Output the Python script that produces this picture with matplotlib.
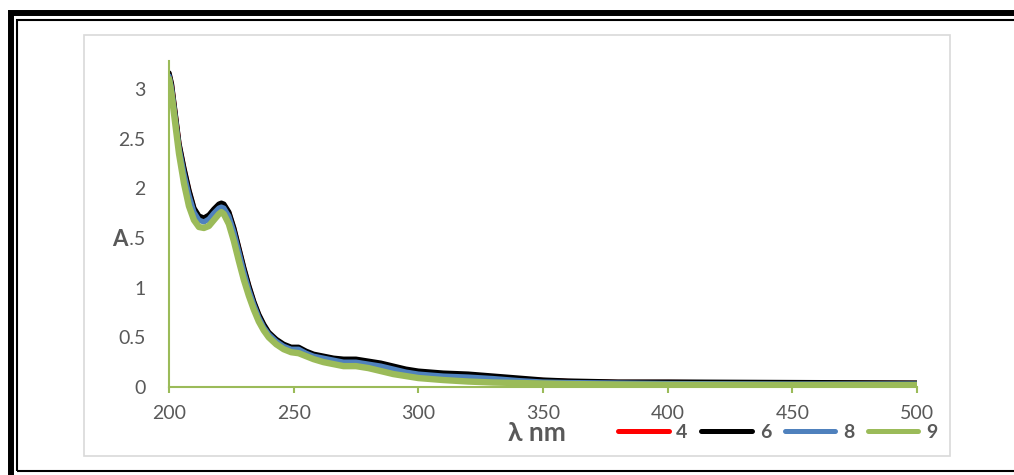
import matplotlib
matplotlib.use("Agg")
import matplotlib.pyplot as plt
from matplotlib.lines import Line2D
from matplotlib.patches import Rectangle

plt.rcParams['font.family'] = ['Lato', 'DejaVu Sans']

# ---------------- data ----------------
wavelength = [200, 201, 202, 204, 206, 208, 210, 212, 214, 216, 218, 220, 221, 222, 224,
              226, 228, 230, 232, 234, 236, 238, 240, 243, 246, 249, 252, 255, 258, 262,
              266, 270, 275, 280, 285, 290, 295, 300, 310, 320, 330, 340, 350, 360, 380,
              400, 450, 500]

abs_4 = [3.15, 3.04, 2.84, 2.44, 2.19, 1.97, 1.79, 1.71, 1.69, 1.72, 1.78, 1.83, 1.84, 1.83, 1.75,
         1.59, 1.39, 1.19, 1.01, 0.85, 0.72, 0.62, 0.54, 0.47, 0.42, 0.39, 0.39, 0.35, 0.32, 0.30,
         0.28, 0.27, 0.27, 0.25, 0.23, 0.20, 0.17, 0.15, 0.13, 0.12, 0.10, 0.08, 0.065, 0.055, 0.045,
         0.045, 0.04, 0.035]

abs_6 = [3.16, 3.05, 2.85, 2.45, 2.20, 1.98, 1.80, 1.72, 1.70, 1.73, 1.79, 1.84, 1.85, 1.84, 1.76,
         1.60, 1.40, 1.20, 1.02, 0.86, 0.73, 0.63, 0.55, 0.48, 0.43, 0.40, 0.40, 0.36, 0.33, 0.31,
         0.29, 0.28, 0.28, 0.26, 0.24, 0.21, 0.18, 0.16, 0.14, 0.13, 0.11, 0.09, 0.07, 0.06, 0.05,
         0.05, 0.045, 0.04]

abs_8 = [3.13, 3.01, 2.81, 2.41, 2.15, 1.93, 1.76, 1.68, 1.66, 1.69, 1.75, 1.80, 1.81, 1.80, 1.72,
         1.56, 1.36, 1.16, 0.98, 0.83, 0.70, 0.60, 0.53, 0.46, 0.41, 0.38, 0.38, 0.34, 0.31, 0.29,
         0.27, 0.25, 0.25, 0.23, 0.21, 0.18, 0.15, 0.13, 0.11, 0.10, 0.085, 0.065, 0.05, 0.045, 0.04,
         0.035, 0.03, 0.03]

abs_9 = [3.10, 2.95, 2.75, 2.35, 2.05, 1.82, 1.68, 1.61, 1.60, 1.62, 1.68, 1.74, 1.76, 1.74, 1.64,
         1.47, 1.27, 1.08, 0.92, 0.78, 0.66, 0.57, 0.50, 0.43, 0.38, 0.35, 0.34, 0.31, 0.28, 0.25,
         0.23, 0.21, 0.21, 0.19, 0.16, 0.13, 0.11, 0.09, 0.07, 0.055, 0.045, 0.04, 0.035, 0.03, 0.025,
         0.022, 0.02, 0.02]

series_labels = ['4', '6', '8', '9']
series_colors = ['#ff0000', '#000000', '#4f81bd', '#9bbb59']
series_widths = [3.8, 3.8, 3.8, 4.6]

x_ticks = [200, 250, 300, 350, 400, 450, 500]
y_ticks = [0, 0.5, 1, 1.5, 2, 2.5, 3]
y_tick_labels = ['0', '0.5', '1', '1.5', '2', '2.5', '3']

# ---------------- figure ----------------
W, H = 1014, 475
fig = plt.figure(figsize=(W / 100, H / 100), dpi=100)


def fx(px):
    return px / W


def fy(py):
    return 1 - py / H


# decorative frame
fig.add_artist(Rectangle((fx(11), fy(480)), fx(1030) - fx(11), fy(13.5) - fy(480),
                         transform=fig.transFigure, fill=False, edgecolor='black', lw=4.3))
fig.add_artist(Rectangle((fx(17), fy(471)), fx(1030) - fx(17), fy(20) - fy(471),
                         transform=fig.transFigure, fill=False, edgecolor='black', lw=1.5))
# chart area border
fig.add_artist(Rectangle((fx(84), fy(456)), fx(950) - fx(84), fy(35) - fy(456),
                         transform=fig.transFigure, fill=False, edgecolor='#d9d9d9', lw=1.2))

ax = fig.add_axes([fx(169), fy(387), fx(917) - fx(169), fy(61) - fy(387)])

series = [abs_4, abs_6, abs_8, abs_9]
for vals, lab, col, lw in zip(series, series_labels, series_colors, series_widths):
    ax.plot(wavelength, vals, color=col, lw=lw, label=lab,
            solid_capstyle='round', solid_joinstyle='round')

ax.set_xlim(200, 500)
ax.set_ylim(0, 3.28)
ax.set_xticks(x_ticks)
ax.set_xticklabels([str(t) for t in x_ticks])
ax.set_yticks(y_ticks)
ax.set_yticklabels(y_tick_labels)

green = '#9bbb59'
for s in ['top', 'right']:
    ax.spines[s].set_visible(False)
for s in ['left', 'bottom']:
    ax.spines[s].set_color(green)
    ax.spines[s].set_linewidth(1.5)
ax.tick_params(axis='x', direction='out', length=4, width=1.5, color=green,
               labelsize=14, labelcolor='#595959', pad=9)
ax.tick_params(axis='y', length=0, labelsize=14, labelcolor='#595959', pad=17)

# axis titles
fig.text(fx(537), fy(433), 'λ nm', ha='center', va='center', fontsize=19,
         fontweight='bold', color='#595959', family=['Lato', 'DejaVu Sans'])
fig.text(fx(120), fy(240), 'A', ha='center', va='center', fontsize=16,
         fontweight='bold', color='#595959',
         bbox=dict(facecolor='white', edgecolor='none', pad=1.0))

# legend
handles = [Line2D([0], [0], color=c, lw=3.6, solid_capstyle='round') for c in series_colors]
leg = ax.legend(handles, series_labels, ncol=4, loc='center left',
                bbox_to_anchor=(fx(618), fy(432)), bbox_transform=fig.transFigure,
                frameon=False, borderpad=0, borderaxespad=0,
                handlelength=2.6, handletextpad=0.4, columnspacing=0.7,
                prop={'weight': 'bold', 'size': 14})
for t in leg.get_texts():
    t.set_color('#595959')

fig.savefig('out.png', dpi=100)
